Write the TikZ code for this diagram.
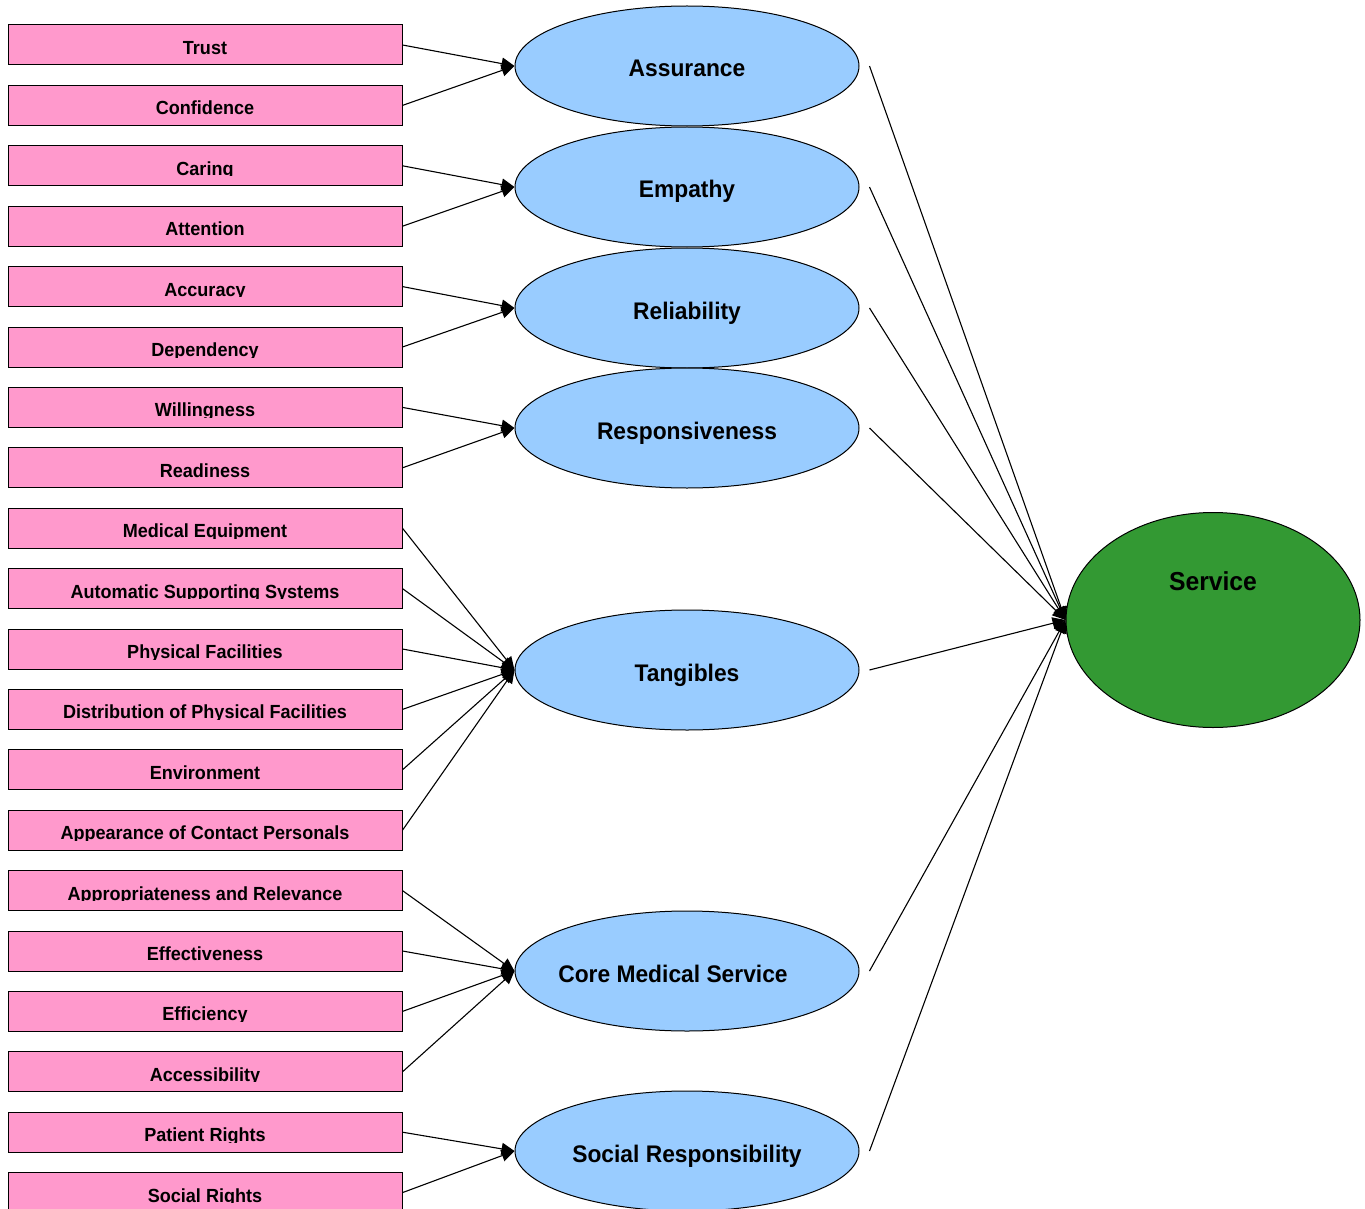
\documentclass[tikz,border=0pt]{standalone}
\usepackage{fontspec}
\setmainfont{Liberation Sans}[FakeStretch=0.95]
\usetikzlibrary{positioning,shapes.geometric,arrows.meta}
\definecolor{boxpink}{HTML}{FF99CC}
\definecolor{ellblue}{HTML}{99CCFF}
\definecolor{srvgreen}{HTML}{339933}
\tikzset{every picture/.style={line width=1pt}}

\begin{document}
\begin{tikzpicture}[x=1pt, y=-1pt,
    factor/.style={draw, fill=boxpink, minimum width=394pt, minimum height=40pt, inner sep=0pt,
      path picture={
        \clip (path picture bounding box.north west) rectangle ([yshift=10pt]path picture bounding box.south east);
        \node[anchor=base, inner sep=0pt, font=\bfseries\fontsize{19}{19}\selectfont]
          at ([yshift=10.5pt]path picture bounding box.south) {#1};}},
    dimension/.style={ellipse, draw, fill=ellblue, minimum width=344pt, minimum height=120pt,
      text height=22pt, text depth=0pt, font=\bfseries\fontsize{24}{24}\selectfont},
    link/.style={-{Triangle[length=13pt, width=12pt]}, line width=1.1pt}]
        \useasboundingbox (0,0) rectangle (1365,1209);
        % indicadores
        \foreach \txt [count=\i from 0] in {Trust, Confidence, Caring, Attention, Accuracy, Dependency,
            Willingness, Readiness, Medical Equipment, Automatic Supporting Systems, Physical Facilities,
            Distribution of Physical Facilities, Environment, Appearance of Contact Personals,
            Appropriateness and Relevance, Effectiveness, Efficiency, Accessibility, Patient Rights, Social Rights}
            \node[factor=\txt] (f\i) at (205,{45+60.4*\i}) {};
        % dimensões
        \node[dimension] (asr) at (687,66) {Assurance};
        \node[dimension] (emp) at (687,187) {Empathy};
        \node[dimension] (rel) at (687,308) {Reliability};
        \node[dimension] (rsp) at (687,428) {Responsiveness};
        \node[dimension] (tng) at (687,670) {Tangibles};
        \node[dimension] (cms) at (687,971) {\hspace*{-28pt}Core Medical Service};
        \node[dimension] (soc) at (687,1151) {Social Responsibility};
        \node[ellipse, draw, fill=srvgreen, minimum width=294pt, minimum height=215pt,
            label={[anchor=center, yshift=39pt, font=\bfseries\fontsize{26}{26}\selectfont]center:Service}] (srv) at (1213,620) {};
        % ligações
        \foreach \f/\d in {0/asr,1/asr,2/emp,3/emp,4/rel,5/rel,6/rsp,7/rsp,8/tng,9/tng,10/tng,11/tng,
            12/tng,13/tng,14/cms,15/cms,16/cms,17/cms,18/soc,19/soc}
            \draw[link] (f\f.east) -- (\d.west);
        \foreach \d in {asr,emp,rel,rsp,tng,cms,soc}
            \draw[link] ([xshift=10pt]\d.east) -- (srv.west);
    \end{tikzpicture}
\end{document}
